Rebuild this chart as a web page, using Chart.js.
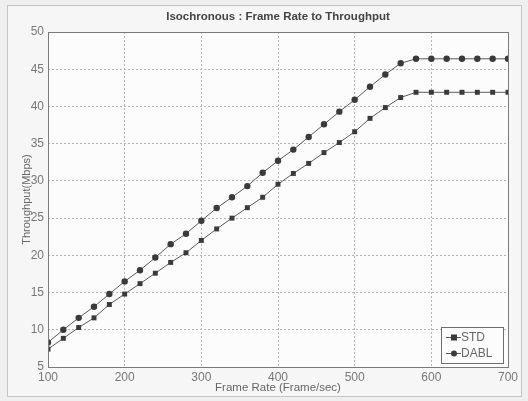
<!DOCTYPE html>
<html>
<head>
<meta charset="utf-8">
<script src="https://cdn.jsdelivr.net/npm/chart.js@4/dist/chart.umd.min.js"></script>
<style>
  html, body { margin: 0; padding: 0; background: #efefef; }
  #chart { display: block; }
</style>
</head>
<body>
<canvas id="chart" width="528" height="401"></canvas>
<script>
const frameRates = [100, 120, 140, 160, 180, 200, 220, 240, 260, 280, 300, 320, 340, 360, 380, 400,
  420, 440, 460, 480, 500, 520, 540, 560, 580, 600, 620, 640, 660, 680, 700];
const stdValues = [7.4, 8.85, 10.3, 11.6, 13.4, 14.8, 16.2, 17.6, 19.05, 20.35, 22.0, 23.55, 25.0, 26.4, 27.8, 29.55,
  31.0, 32.35, 33.8, 35.15, 36.6, 38.4, 39.85, 41.2, 41.9, 41.9, 41.9, 41.9, 41.9, 41.9, 41.9];
const dablValues = [8.3, 10.0, 11.6, 13.1, 14.8, 16.5, 18.0, 19.7, 21.5, 22.9, 24.65, 26.35, 27.8, 29.3, 31.1, 32.7,
  34.2, 35.9, 37.6, 39.3, 40.9, 42.65, 44.3, 45.8, 46.4, 46.4, 46.4, 46.4, 46.4, 46.4, 46.4];
const seriesNames = ['STD', 'DABL'];
const xTicks = [100, 200, 300, 400, 500, 600, 700];
const yTicks = [5, 10, 15, 20, 25, 30, 35, 40, 45, 50];
const chartTitle = 'Isochronous : Frame Rate to Throughput';

const FONT = "'Liberation Sans', Arial, sans-serif";

function toPoints(values) {
  return values.map((v, i) => ({ x: frameRates[i], y: v }));
}

// frame around the figure, title over the axes, plot box and legend inside the axes
const framePlugin = {
  id: 'frame',
  beforeDraw(chart) {
    const ctx = chart.ctx;
    const a = chart.chartArea;
    ctx.save();
    ctx.fillStyle = '#f6f6f6';
    ctx.fillRect(7, 5, 514, 391);
    ctx.strokeStyle = '#c4c4c4';
    ctx.lineWidth = 1;
    ctx.strokeRect(7.5, 5.5, 514, 391);
    ctx.fillStyle = '#fcfcfc';
    ctx.fillRect(a.left, a.top, a.right - a.left, a.bottom - a.top);
    ctx.restore();
  },
  afterDraw(chart) {
    const ctx = chart.ctx;
    const a = chart.chartArea;
    ctx.save();
    ctx.strokeStyle = '#7a7a7a';
    ctx.lineWidth = 1;
    ctx.strokeRect(Math.round(a.left) + 0.5, Math.round(a.top) + 0.5,
      Math.round(a.right - a.left), Math.round(a.bottom - a.top));

    ctx.fillStyle = '#444';
    ctx.font = 'bold 11.5px ' + FONT;
    ctx.textAlign = 'center';
    ctx.textBaseline = 'middle';
    ctx.fillText(chartTitle, (a.left + a.right) / 2, 17);

    // legend box
    const bx = 441, by = 327, bw = 62, bh = 36;
    ctx.fillStyle = '#fcfcfc';
    ctx.fillRect(bx, by, bw, bh);
    ctx.strokeStyle = '#6e6e6e';
    ctx.strokeRect(bx + 0.5, by + 0.5, bw, bh);
    ctx.font = '12px ' + FONT;
    ctx.textBaseline = 'middle';
    ctx.textAlign = 'left';
    chart.data.datasets.forEach((ds, i) => {
      const y = by + 10 + i * 16;
      ctx.strokeStyle = ds.borderColor;
      ctx.beginPath();
      ctx.moveTo(bx + 5, y + 0.5);
      ctx.lineTo(bx + 20, y + 0.5);
      ctx.stroke();
      ctx.fillStyle = ds.pointBackgroundColor;
      if (ds.pointStyle === 'rect') {
        ctx.fillRect(bx + 10, y - 2.5, 6, 6);
      } else {
        ctx.beginPath();
        ctx.arc(bx + 13, y + 0.5, 3, 0, Math.PI * 2);
        ctx.fill();
      }
      ctx.fillStyle = '#666';
      ctx.fillText(ds.label, bx + 20, y + 1);
    });
    ctx.restore();
  }
};

new Chart(document.getElementById('chart'), {
  type: 'line',
  data: {
    datasets: [
      {
        label: seriesNames[0],
        data: toPoints(stdValues),
        borderColor: '#5a5a5a',
        borderWidth: 1,
        pointStyle: 'rect',
        pointRadius: 3.5,
        pointBackgroundColor: '#3a3a3a',
        pointBorderColor: '#3a3a3a',
        pointBorderWidth: 0,
        tension: 0
      },
      {
        label: seriesNames[1],
        data: toPoints(dablValues),
        borderColor: '#5a5a5a',
        borderWidth: 1,
        pointStyle: 'circle',
        pointRadius: 3.2,
        pointBackgroundColor: '#3a3a3a',
        pointBorderColor: '#3a3a3a',
        pointBorderWidth: 0,
        tension: 0
      }
    ]
  },
  options: {
    responsive: false,
    animation: false,
    devicePixelRatio: 1,
    layout: { padding: { left: 0, right: 20, top: 32, bottom: 0 } },
    plugins: {
      legend: { display: false },
      tooltip: { enabled: false },
      title: { display: false }
    },
    scales: {
      x: {
        type: 'linear',
        min: 100,
        max: 700,
        afterBuildTicks: s => { s.ticks = xTicks.map(v => ({ value: v })); },
        afterFit: s => { s.height = 34; },
        ticks: { color: '#777', font: { family: FONT, size: 12 }, padding: 3, maxRotation: 0 },
        grid: { color: '#b4b4b4', drawTicks: false },
        border: { display: false, dash: [2, 2] },
        title: {
          display: true,
          text: 'Frame Rate (Frame/sec)',
          color: '#666',
          font: { family: FONT, size: 11.5 },
          padding: { top: 0, bottom: 6 }
        }
      },
      y: {
        min: 5,
        max: 50,
        afterBuildTicks: s => { s.ticks = yTicks.map(v => ({ value: v })); },
        afterFit: s => { s.width = 48; },
        ticks: { color: '#777', font: { family: FONT, size: 12 }, padding: 4 },
        grid: { color: '#b4b4b4', drawTicks: false },
        border: { display: false, dash: [2, 2] },
        title: {
          display: true,
          text: 'Throughput(Mbps)',
          color: '#666',
          font: { family: FONT, size: 11 },
          padding: { top: 20, bottom: 0 }
        }
      }
    }
  },
  plugins: [framePlugin]
});
</script>
</body>
</html>
